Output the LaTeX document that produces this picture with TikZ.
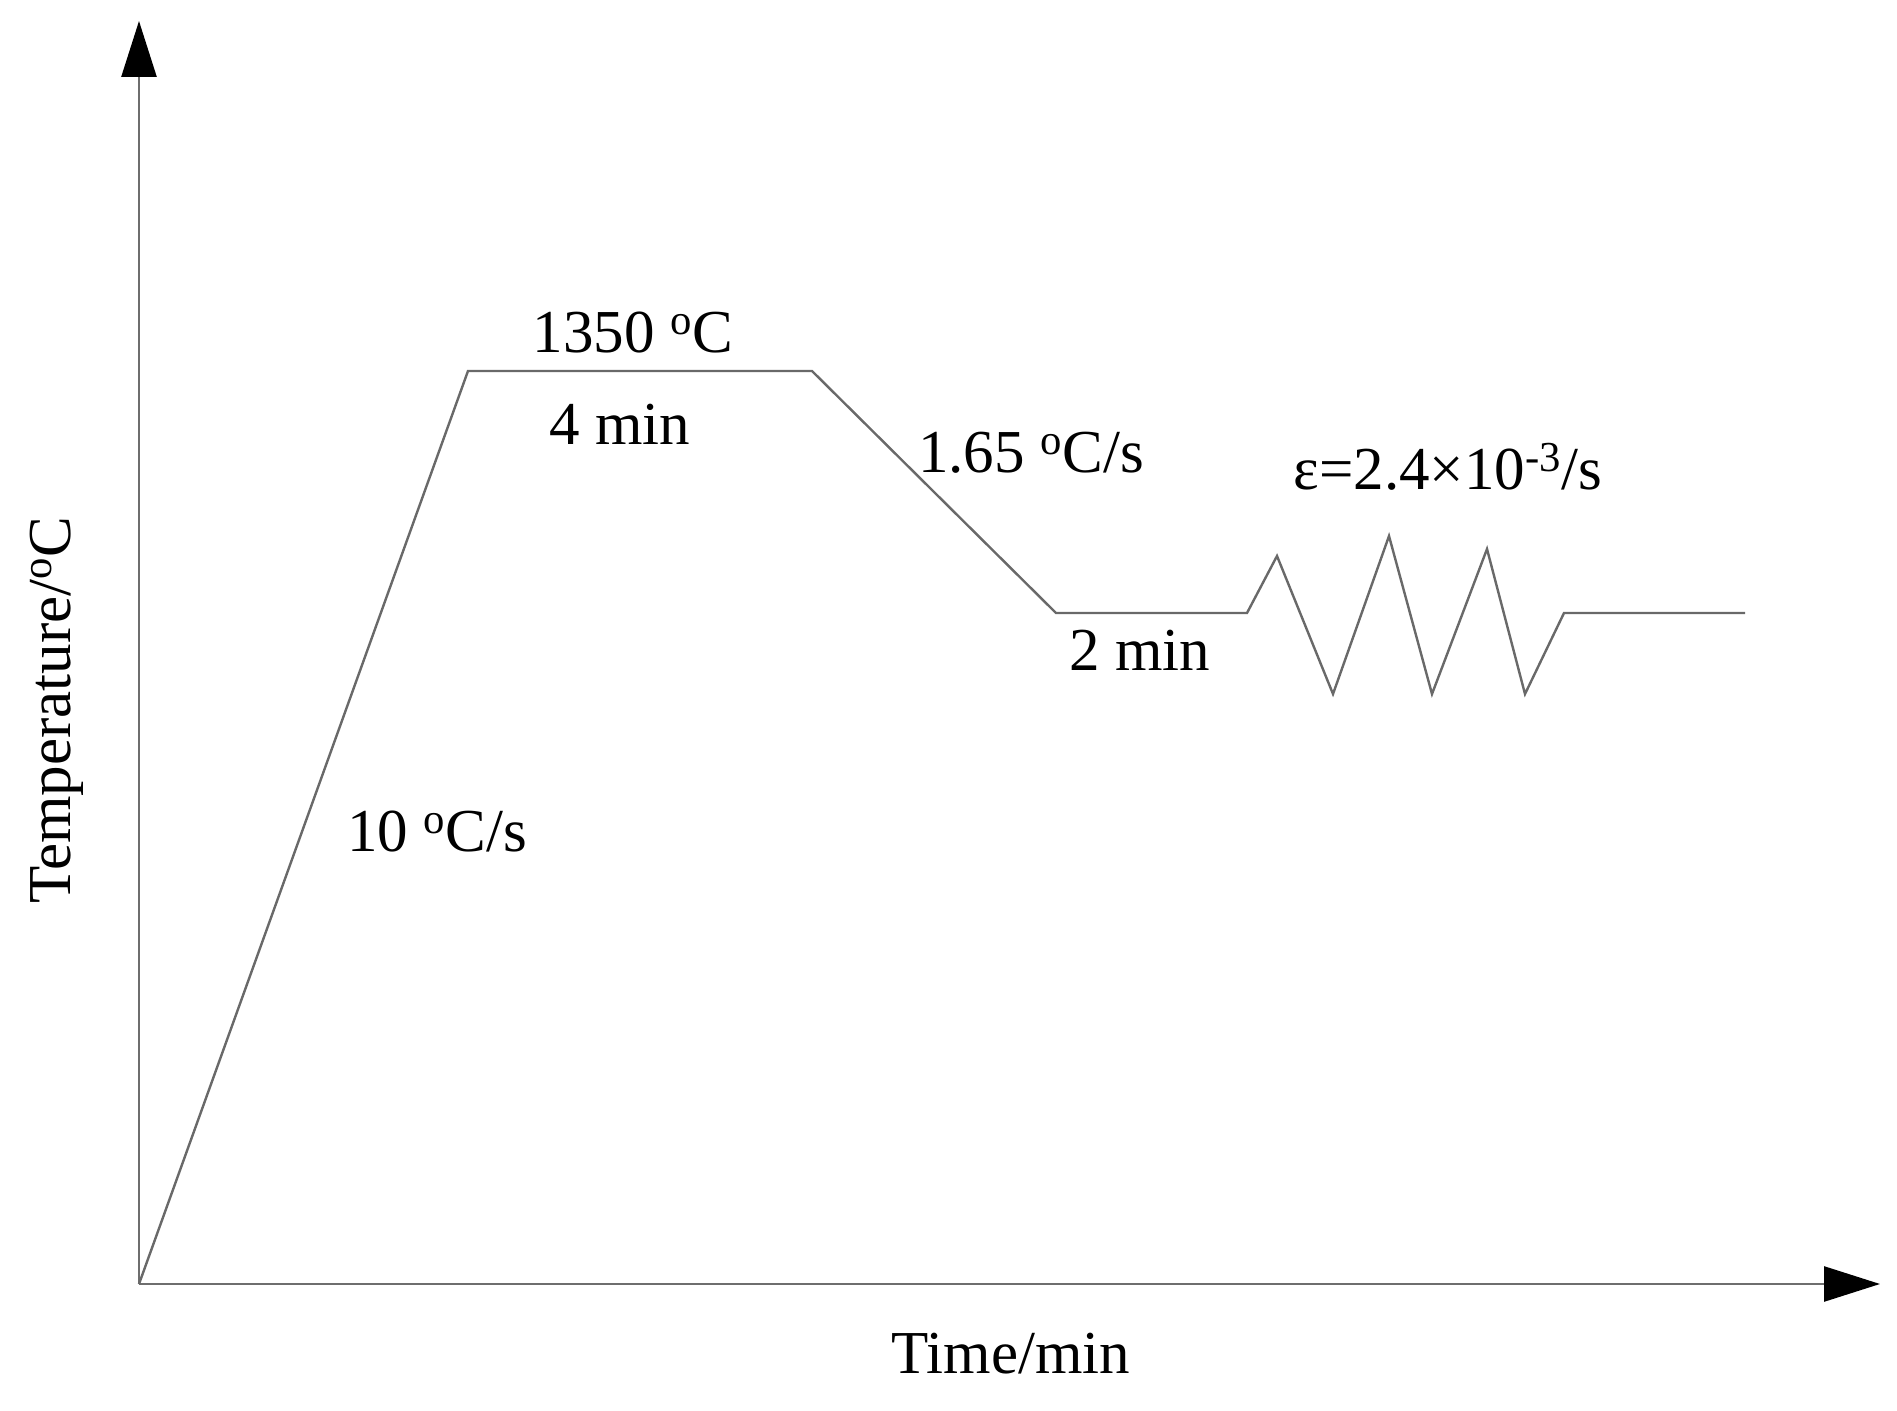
\documentclass[tikz,border=0pt]{standalone}
\usepackage{fontspec}
\setmainfont{Liberation Serif}
\usetikzlibrary{arrows.meta}
\begin{document}
\begin{tikzpicture}[x=0.5pt,y=-0.5pt,
  axis/.style={draw={rgb,255:red,110;green,110;blue,110}, line width=1.3pt,
    -{Triangle[length=28pt,width=17.5pt,color=black]}},
  curve/.style={draw={rgb,255:red,105;green,105;blue,105}, line width=1.2pt, line join=miter},
  lbl/.style={anchor=base, inner sep=0pt, font=\fontsize{30.5}{36}\selectfont}]
\useasboundingbox (0,0) rectangle (1897,1411);
\coordinate (O) at (139,1284);
\coordinate (Ytop) at (139,21);
\coordinate (Xend) at (1880,1284);
\coordinate (A) at (468,371);
\coordinate (B) at (812,371);
\coordinate (C) at (1056,613);
\coordinate (D) at (1247,613);
\coordinate (P1) at (1277,556);
\coordinate (V1) at (1333,694);
\coordinate (P2) at (1389,536);
\coordinate (V2) at (1432,694);
\coordinate (P3) at (1487,549);
\coordinate (V3) at (1525,694);
\coordinate (E) at (1564,613);
\coordinate (F) at (1745,613);
\draw[axis] (O) -- (Ytop);
\draw[axis] (O) -- (Xend);
\draw[curve] (O) -- (A) -- (B) -- (C) -- (D) -- (P1) -- (V1) -- (P2) -- (V2) -- (P3) -- (V3) -- (E) -- (F);
\node[lbl] (t1350) at (633,353) {1350 \textsuperscript{o}C};
\node[lbl] (t4min) at (620,445) {4 min};
\node[lbl] (trate2) at (1031,473) {1.65 \textsuperscript{o}C/s};
\node[lbl] (teps) at (1448,490) {ε=2.4×10\textsuperscript{-3}/s};
\node[lbl] (t2min) at (1140,671) {2 min};
\node[lbl] (trate1) at (437,852) {10 \textsuperscript{o}C/s};
\node[lbl] (xlab) at (1011,1373) {Time/min};
\node[lbl, rotate=90] (ylab) at (70,710) {Temperature/\textsuperscript{o}C};
\end{tikzpicture}
\end{document}
